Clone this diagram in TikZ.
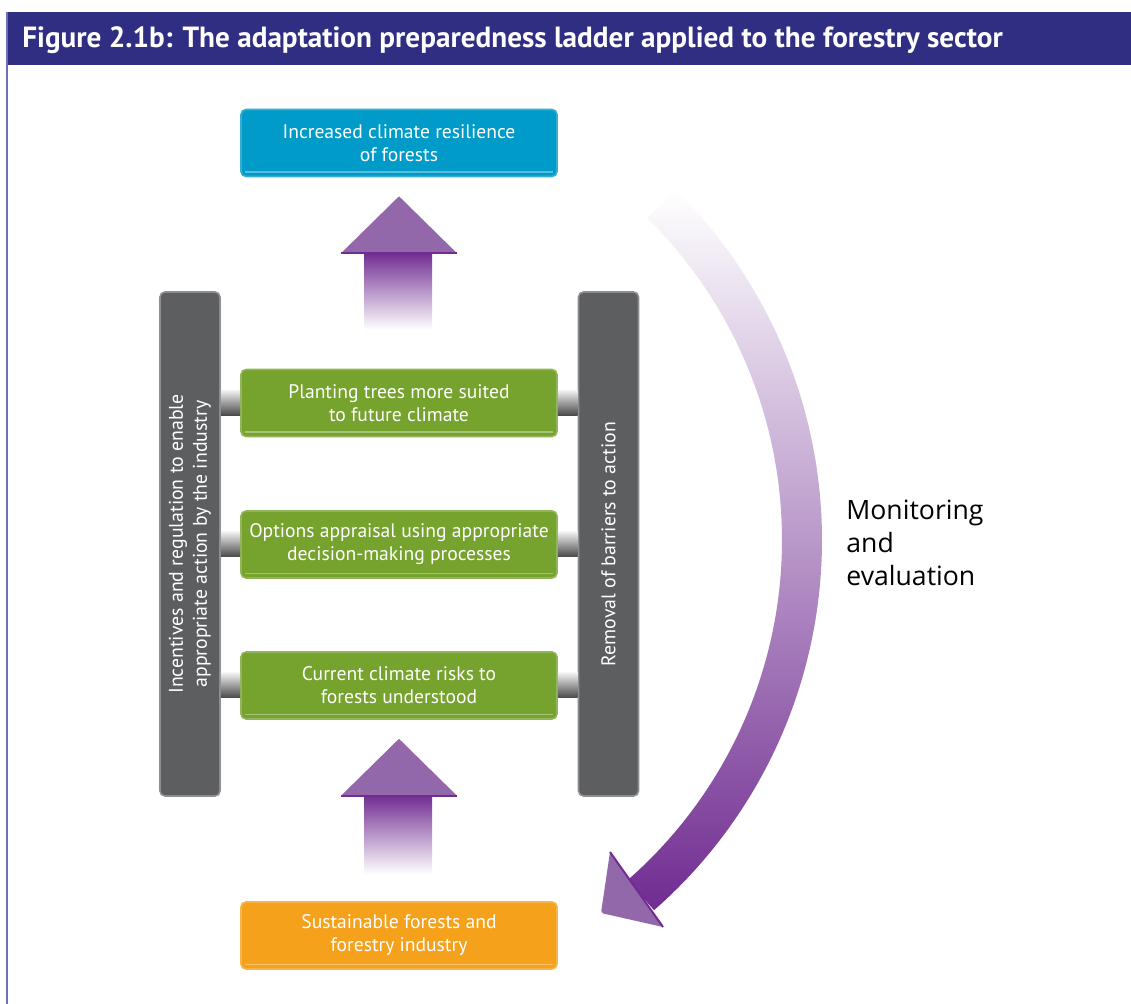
\documentclass[tikz,border=0pt]{standalone}
\usepackage{graphicx}
\usepackage{fontspec}
\setmainfont{PT Sans}
\newfontfamily\monfont{Open Sans}
\usetikzlibrary{calc}

\definecolor{bandblue}{HTML}{302E82}
\definecolor{framelilac}{HTML}{7070B4}
\definecolor{skyblue}{HTML}{009BC8}
\definecolor{leafgreen}{HTML}{76A22E}
\definecolor{sunorange}{HTML}{F5A11C}
\definecolor{railgray}{HTML}{5D5E60}
\definecolor{deeppurple}{HTML}{702C91}
\definecolor{softpurple}{HTML}{9368AA}

\begin{document}
\begin{tikzpicture}[x=0.5pt, y=0.5pt,
    box/.style={rounded corners=2.5pt, minimum width=158pt, minimum height=33.5pt,
        inner sep=0pt, align=center, text=white, line width=0.8pt,
        font=\fontsize{9.8}{11.5}\selectfont,
        path picture={\draw[white, opacity=0.35, line width=0.8pt]
            ([xshift=2pt,yshift=2.2pt]path picture bounding box.south west) --
            ([xshift=-2pt,yshift=2.2pt]path picture bounding box.south east);}},
    greenbox/.style={box, fill=leafgreen, draw=leafgreen!80!white},
    rail/.style={rounded corners=2.5pt, fill=railgray, draw=railgray!70!white,
        line width=0.8pt, minimum width=30pt, minimum height=252pt, inner sep=0pt,
        text=white, font=\fontsize{9.9}{12}\selectfont},
    rung/.style={top color=gray!12, middle color=gray!60, bottom color=black!72},
    shaftshade/.style={top color=deeppurple, bottom color=white},
    headfill/.style={fill=softpurple},
    headline/.style={draw=deeppurple, line width=1pt},
]
    \useasboundingbox (0,0) rectangle (1131,-1004);

    % Frame and title
    \fill[bandblue] (7,-12) rectangle (1131,-65);
    \draw[framelilac, line width=1pt] (7,-12) -- (7,-1004);
    \node[anchor=base west, inner sep=0pt, text=white,
        font=\bfseries\fontsize{14.6}{16}\selectfont] (title) at (22,-48)
        {Figure 2.1b: The adaptation preparedness ladder applied to the forestry sector};

    % Ladder rails
    \node[rail] (railL) at (190,-544) {\rotatebox{90}{\begin{tabular}{@{}c@{}}
        Incentives and regulation to enable\\ appropriate action by the industry\end{tabular}}};
    \node[rail] (railR) at (608.5,-544) {\rotatebox{90}{Removal of barriers to action}};

    % Boxes
    \node[box, fill=skyblue, draw=skyblue!80!white] (goal) at (399,-143)
        {Increased climate resilience\\ of forests};
    \node[greenbox] (b1) at (399,-403) {Planting trees more suited\\ to future climate};
    \node[greenbox] (b2) at (399,-544.5) {Options appraisal using appropriate\\ decision-making processes};
    \node[greenbox] (b3) at (399,-685.5) {Current climate risks to\\ forests understood};
    \node[box, fill=sunorange, draw=sunorange!80!white] (base) at (399,-935.5)
        {Sustainable forests and\\ forestry industry};

    % Rungs
    \foreach \i in {1,2,3}{
        \shade[rung] ($(railL.east |- b\i.west)+(0,12.5)$) rectangle ($(b\i.west)+(0,-12.5)$);
        \shade[rung] ($(b\i.east)+(0,12.5)$) rectangle ($(railR.west |- b\i.east)+(0,-12.5)$);
    }

    % Up arrows
    \coordinate (tipA) at ($(goal.south)+(0,-19)$);
    \coordinate (tailA) at ($(b1.north)+(0,39)$);
    \coordinate (tipB) at ($(b3.south)+(0,-19)$);
    \coordinate (tailB) at ($(base.north)+(0,27)$);
    \foreach \tip/\tail in {tipA/tailA, tipB/tailB}{
        \shade[shaftshade] ($(\tip)+(-35,-56)$) rectangle ($(\tail)+(33,0)$);
        \fill[headfill] ($(\tip)+(-58,-57)$) -- (\tip) -- ($(\tip)+(58,-57)$) -- cycle;
        \draw[headline] ($(\tip)+(-58,-57)$) -- ($(\tip)+(58,-57)$);
    }

    % Monitoring loop
    \coordinate (loop) at (330,-540);
    \shade[top color=white, middle color=deeppurple!35!white, bottom color=deeppurple]
        ([shift={(45.4:492)}]loop) arc[start angle=45.4, end angle=-48.8, radius=492]
        -- ([shift={(-48.8:452)}]loop) arc[start angle=-48.8, end angle=45.4, radius=452]
        -- cycle;
    \coordinate (loopEnd) at (601,-913);
    \fill[headfill, rounded corners=1pt] (610,-852) -- (663,-927) -- (loopEnd) -- cycle;
    \draw[headline] (610,-852) -- (663,-927);
    \node[anchor=north west, inner sep=0pt, align=left,
        font=\monfont\fontsize{13.3}{16.5}\selectfont] (mon) at (846,-500)
        {Monitoring\\and\\evaluation};
\end{tikzpicture}
\end{document}
